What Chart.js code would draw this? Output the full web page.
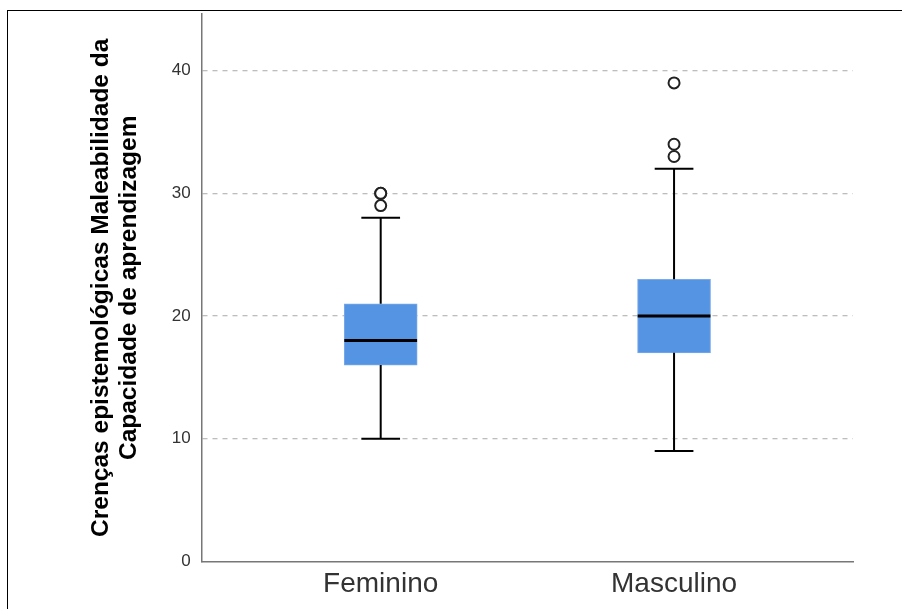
<!DOCTYPE html>
<html>
<head>
<meta charset="utf-8">
<script src="https://cdn.jsdelivr.net/npm/chart.js@4.4.0/dist/chart.umd.min.js"></script>
<style>
    body { margin: 0; background: #fff; overflow: hidden; }
    #moldura { position: absolute; left: 7px; top: 10px; width: 895px; height: 599px; border-top: 1px solid #000; border-left: 1px solid #000; }
    #caixa { position: absolute; left: 0; top: -7px; width: 902px; height: 614px; }
</style>
</head>
<body>
<div id="moldura"></div>
<div id="caixa"><canvas id="boxplot"></canvas></div>
<script>
const grupos = ['Feminino', 'Masculino'];
const minimos = [10, 9];
const q1 = [16, 17];
const medianas = [18, 20];
const q3 = [21, 23];
const maximos = [28, 32];
const outliers = [[29, 30, 30], [33, 34, 39]];
const ticksY = [0, 10, 20, 30, 40];

const ctx = document.getElementById('boxplot').getContext('2d');

// bigodes e mediana desenhados pelas escalas do grafico
const bigodes = {
    id: 'bigodes',
    afterDatasetsDraw(chart) {
        const x = chart.scales.x;
        const y = chart.scales.y;
        const c = chart.ctx;
        c.save();
        c.strokeStyle = '#000';
        grupos.forEach((g, i) => {
            const cx = x.getPixelForValue(i + 1);
            const meia = x.getPixelForValue(i + 1 + 0.066) - cx;
            const meiaCaixa = x.getPixelForValue(i + 1 + 0.124) - cx;
            c.lineWidth = 2;
            c.beginPath();
            c.moveTo(cx, y.getPixelForValue(maximos[i]));
            c.lineTo(cx, y.getPixelForValue(q3[i]));
            c.moveTo(cx, y.getPixelForValue(q1[i]));
            c.lineTo(cx, y.getPixelForValue(minimos[i]));
            c.moveTo(cx - meia, y.getPixelForValue(maximos[i]));
            c.lineTo(cx + meia, y.getPixelForValue(maximos[i]));
            c.moveTo(cx - meia, y.getPixelForValue(minimos[i]));
            c.lineTo(cx + meia, y.getPixelForValue(minimos[i]));
            c.stroke();
            c.lineWidth = 3;
            c.beginPath();
            c.moveTo(cx - meiaCaixa, y.getPixelForValue(medianas[i]));
            c.lineTo(cx + meiaCaixa, y.getPixelForValue(medianas[i]));
            c.stroke();
        });
        c.restore();
    }
};

const pontosOutliers = [];
outliers.forEach((lista, i) => lista.forEach(v => pontosOutliers.push({ x: i + 1, y: v })));

const grafico = new Chart(ctx, {
    data: {
        datasets: [{
                type: 'bar',
                label: 'Caixa',
                data: grupos.map((g, i) => ({ x: i + 1, y: [q1[i], q3[i]] })),
                backgroundColor: '#5593e3',
                borderColor: '#7aaaea',
                borderWidth: 1,
                borderSkipped: false,
                barThickness: 73
            },
            {
                type: 'scatter',
                label: 'Outliers',
                data: pontosOutliers,
                pointRadius: 5.5,
                pointBackgroundColor: '#fff',
                pointBorderColor: '#222',
                pointBorderWidth: 2
            }
        ]
    },
    options: {
        responsive: true,
        maintainAspectRatio: false,
        animation: false,
        layout: {
            padding: { top: 5, right: 49, bottom: 0, left: 87 }
        },
        plugins: {
            legend: { display: false },
            tooltip: { enabled: false }
        },
        scales: {
            x: {
                type: 'linear',
                offset: false,
                min: 0.39,
                max: 2.61,
                afterBuildTicks: (axis) => {
                    axis.ticks = grupos.map((g, i) => ({ value: i + 1 }));
                },
                grid: { display: false, drawTicks: false, offset: false },
                border: { color: '#777', width: 1.5 },
                ticks: {
                    color: '#333',
                    padding: 6,
                    maxRotation: 0,
                    callback: function (value) {
                        return grupos[value - 1];
                    },
                    font: { size: 28, family: 'Liberation Sans' }
                }
            },
            y: {
                min: 0,
                max: 44.6,
                afterBuildTicks: (axis) => {
                    axis.ticks = ticksY.map(v => ({ value: v }));
                },
                grid: {
                    color: (c) => c.tick.value === 0 ? 'rgba(0,0,0,0)' : '#bdbdbd',
                    lineWidth: 1.3,
                    drawTicks: false
                },
                border: { color: '#777', width: 1.5, dash: [5, 5] },
                ticks: {
                    color: '#333',
                    padding: 11,
                    font: { size: 17, family: 'Liberation Sans' }
                },
                title: {
                    display: true,
                    text: ['Crenças epistemológicas Maleabilidade da', 'Capacidade de aprendizagem'],
                    color: '#000',
                    padding: { top: 0, bottom: 17 },
                    font: { size: 24.5, weight: 'bold', family: 'Liberation Sans', lineHeight: 1.16 }
                }
            }
        }
    },
    plugins: [bigodes]
});
</script>
</body>
</html>
